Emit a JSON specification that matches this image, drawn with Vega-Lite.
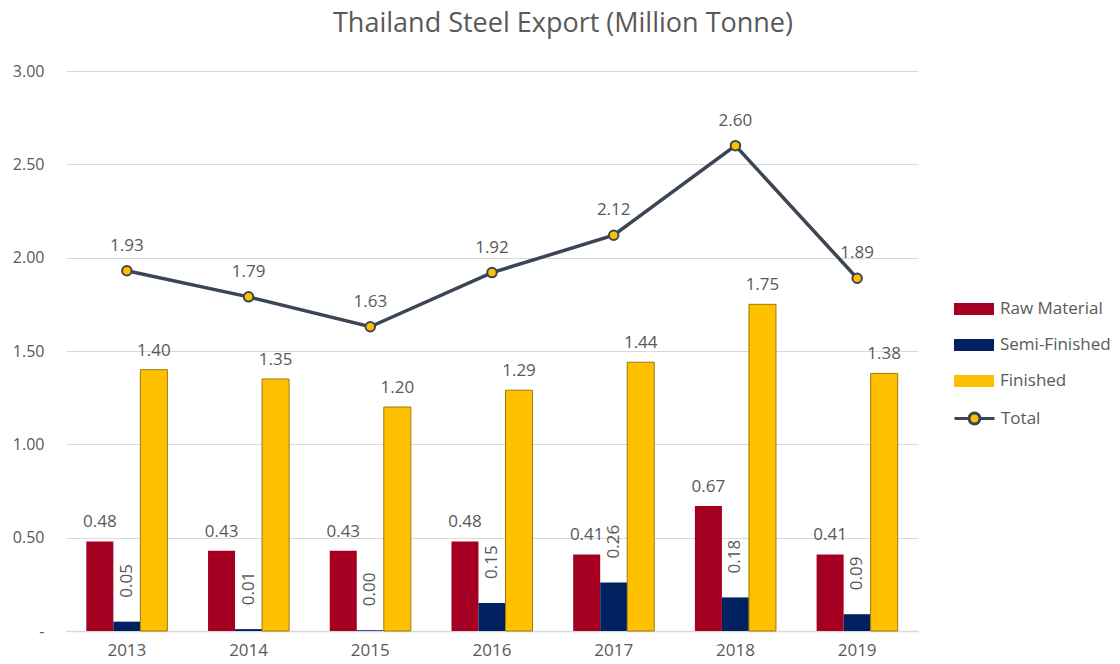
{
  "$schema": "https://vega.github.io/schema/vega-lite/v6.json",
  "width": 852,
  "height": 560,
  "autosize": "none",
  "padding": {"left": 66, "top": 71, "right": 202, "bottom": 33},
  "background": "white",
  "title": {
    "text": "Thailand Steel Export (Million Tonne)",
    "font": "Open Sans",
    "fontSize": 27,
    "fontWeight": "normal",
    "color": "#595959",
    "anchor": "middle",
    "dx": 71,
    "offset": 25
  },
  "config": {
    "view": {"stroke": null},
    "font": "Open Sans",
    "text": {"font": "Open Sans", "fontSize": 17, "color": "#595959"}
  },
  "datasets": {
    "bars": [
      {"year": "2013", "series": "Raw Material", "value": 0.48},
      {"year": "2013", "series": "Semi-Finished", "value": 0.05},
      {"year": "2013", "series": "Finished", "value": 1.40},
      {"year": "2014", "series": "Raw Material", "value": 0.43},
      {"year": "2014", "series": "Semi-Finished", "value": 0.01},
      {"year": "2014", "series": "Finished", "value": 1.35},
      {"year": "2015", "series": "Raw Material", "value": 0.43},
      {"year": "2015", "series": "Semi-Finished", "value": 0.004},
      {"year": "2015", "series": "Finished", "value": 1.20},
      {"year": "2016", "series": "Raw Material", "value": 0.48},
      {"year": "2016", "series": "Semi-Finished", "value": 0.15},
      {"year": "2016", "series": "Finished", "value": 1.29},
      {"year": "2017", "series": "Raw Material", "value": 0.41},
      {"year": "2017", "series": "Semi-Finished", "value": 0.26},
      {"year": "2017", "series": "Finished", "value": 1.44},
      {"year": "2018", "series": "Raw Material", "value": 0.67},
      {"year": "2018", "series": "Semi-Finished", "value": 0.18},
      {"year": "2018", "series": "Finished", "value": 1.75},
      {"year": "2019", "series": "Raw Material", "value": 0.41},
      {"year": "2019", "series": "Semi-Finished", "value": 0.09},
      {"year": "2019", "series": "Finished", "value": 1.38}
    ],
    "total": [
      {"year": "2013", "total": 1.93},
      {"year": "2014", "total": 1.79},
      {"year": "2015", "total": 1.63},
      {"year": "2016", "total": 1.92},
      {"year": "2017", "total": 2.12},
      {"year": "2018", "total": 2.60},
      {"year": "2019", "total": 1.89}
    ]
  },
  "encoding": {
    "x": {
      "field": "year",
      "type": "ordinal",
      "scale": {"paddingInner": 0.334, "paddingOuter": 0.167},
      "axis": {
        "title": null,
        "labelAngle": 0,
        "labelFont": "Open Sans",
        "labelFontSize": 17,
        "labelColor": "#595959",
        "labelPadding": 11,
        "ticks": false,
        "domain": true,
        "domainColor": "#d9d9d9",
        "domainWidth": 1.5
      }
    }
  },
  "layer": [
    {
      "data": {"name": "bars"},
      "mark": {"type": "bar", "strokeWidth": 1},
      "encoding": {
        "xOffset": {
          "field": "series",
          "sort": ["Raw Material", "Semi-Finished", "Finished"],
          "scale": {"paddingInner": 0, "paddingOuter": 0}
        },
        "y": {
          "field": "value",
          "type": "quantitative",
          "scale": {"domain": [0, 3], "nice": false},
          "axis": {
            "title": null,
            "values": [0, 0.5, 1, 1.5, 2, 2.5, 3],
            "labelExpr": "datum.value == 0 ? '-\u00a0\u00a0\u00a0' : format(datum.value, '.2f')",
            "labelFont": "Open Sans",
            "labelFontSize": 16,
            "labelColor": "#595959",
            "labelPadding": 22,
            "grid": true,
            "gridColor": "#d9d9d9",
            "gridWidth": 1,
            "domain": false,
            "ticks": false
          }
        },
        "color": {
          "field": "series",
          "type": "nominal",
          "scale": {
            "domain": ["Raw Material", "Semi-Finished", "Finished"],
            "range": ["#a50021", "#002060", "#ffc000"]
          },
          "legend": {
            "title": null,
            "orient": "none",
            "legendX": 887,
            "legendY": 217,
            "symbolType": "M-1,-0.3H1V0.3H-1Z",
            "symbolSize": 1600,
            "symbolOpacity": 1,
            "labelFont": "Open Sans",
            "labelFontSize": 17,
            "labelColor": "#595959",
            "labelOffset": 5,
            "rowPadding": 7,
            "encode": {
              "symbols": {
                "update": {
                  "stroke": {"signal": "datum.value === 'Finished' ? '#9c7a10' : 'transparent'"},
                  "strokeWidth": {"value": 1}
                }
              }
            }
          }
        },
        "stroke": {
          "condition": {"test": "datum.series === 'Finished'", "value": "#9c7a10"},
          "value": null
        }
      }
    },
    {
      "data": {"name": "bars"},
      "transform": [{"filter": "datum.series !== 'Semi-Finished'"}],
      "mark": {"type": "text", "baseline": "bottom", "dy": -10, "fontSize": 17, "color": "#595959"},
      "encoding": {
        "xOffset": {"field": "series", "sort": ["Raw Material", "Semi-Finished", "Finished"]},
        "y": {"field": "value", "type": "quantitative"},
        "text": {"field": "value", "type": "quantitative", "format": ".2f"}
      }
    },
    {
      "data": {"name": "bars"},
      "transform": [{"filter": "datum.series === 'Semi-Finished'"}],
      "mark": {"type": "text", "angle": 270, "align": "left", "baseline": "middle", "dx": 24, "fontSize": 17, "color": "#595959"},
      "encoding": {
        "xOffset": {"field": "series", "sort": ["Raw Material", "Semi-Finished", "Finished"]},
        "y": {"field": "value", "type": "quantitative"},
        "text": {"field": "value", "type": "quantitative", "format": ".2f"}
      }
    },
    {
      "data": {"name": "total"},
      "mark": {"type": "line", "strokeWidth": 3.5},
      "encoding": {
        "y": {"field": "total", "type": "quantitative"},
        "stroke": {
          "datum": "Total",
          "type": "nominal",
          "scale": {"domain": ["Total"], "range": ["#3b4556"]},
          "legend": {
            "title": null,
            "orient": "none",
            "legendX": 887,
            "legendY": 326,
            "symbolType": "M-1,0H-0.27M0.27,0H1M-0.27,0A0.27,0.27 0 1,0 0.27,0A0.27,0.27 0 1,0 -0.27,0Z",
            "symbolSize": 1600,
            "symbolStrokeWidth": 3,
            "symbolFillColor": "#ffc000",
            "labelFont": "Open Sans",
            "labelFontSize": 17,
            "labelColor": "#595959",
            "labelOffset": 5,
            "encode": {
              "symbols": {
                "update": {
                  "fill": {"value": "#ffc000"},
                  "fillOpacity": {"value": 1},
                  "strokeWidth": {"value": 3}
                }
              }
            }
          }
        }
      }
    },
    {
      "data": {"name": "total"},
      "mark": {"type": "point", "filled": true, "fill": "#ffc000", "stroke": "#3b4556", "strokeWidth": 2, "size": 90, "opacity": 1},
      "encoding": {
        "y": {"field": "total", "type": "quantitative"}
      }
    },
    {
      "data": {"name": "total"},
      "mark": {"type": "text", "baseline": "bottom", "dy": -16, "fontSize": 17, "color": "#595959"},
      "encoding": {
        "y": {"field": "total", "type": "quantitative"},
        "text": {"field": "total", "type": "quantitative", "format": ".2f"}
      }
    }
  ]
}
